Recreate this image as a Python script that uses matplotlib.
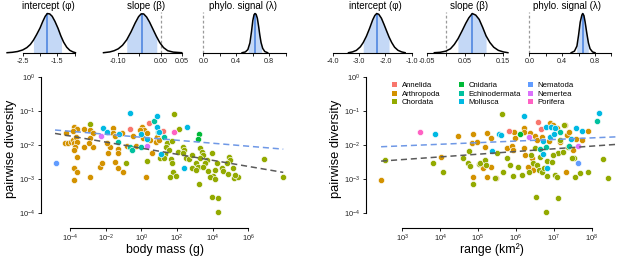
import numpy as np
import matplotlib
matplotlib.use('Agg')
import matplotlib.pyplot as plt
from matplotlib.lines import Line2D
from matplotlib.legend import Legend

plt.rcParams['font.family'] = ['Liberation Sans', 'DejaVu Sans']
plt.rcParams['mathtext.fontset'] = 'custom'
plt.rcParams['mathtext.rm'] = 'Liberation Sans'
plt.rcParams['mathtext.it'] = 'Liberation Sans:italic'
plt.rcParams['mathtext.bf'] = 'Liberation Sans:bold'
plt.rcParams['axes.unicode_minus'] = False

# ---------------- data ----------------
phyla = ['Annelida', 'Arthropoda', 'Chordata', 'Cnidaria', 'Echinodermata',
         'Mollusca', 'Nematoda', 'Nemertea', 'Porifera']
phylum_colors = ['#F8766D', '#D39200', '#93AA00', '#00BA38', '#00C19F',
                 '#00B9E3', '#619CFF', '#DB72FB', '#FF61C3']

# body mass panel: log10 body mass (g), log10 pairwise diversity
mass_annelida_x = [-0.63, 0.45, 1.23]
mass_annelida_y = [-1.54, -1.35, -1.58]
mass_arthropoda_x = [-3.78, -3.62, -3.85, -4.22, -4.28, -4.10, -3.96, -3.81, -3.78, -3.66, -3.59, -3.72,
                     -3.78, -3.59, -3.78, -3.59, -3.78, -3.20, -3.20, -2.88, -2.73, -2.88, -2.69, -2.92,
                     -2.88, -2.32, -2.22, -1.57, -1.57, -1.48, -1.76, -1.91, -1.85, -1.32, -1.32, -1.48,
                     -1.32, -1.04, -1.10, -0.79, -0.45, -0.30, 0.02, 0.15, 0.30, 0.08, 0.49, 0.58,
                     0.26, 0.82, -0.07, 0.90, 1.01]
mass_arthropoda_y = [-1.48, -1.54, -1.59, -1.66, -1.93, -1.93, -1.90, -1.85, -1.95, -1.76, -1.90, -2.07,
                     -2.15, -2.36, -2.68, -2.78, -3.02, -1.53, -2.05, -1.56, -1.66, -1.80, -2.05, -1.95,
                     -2.94, -2.63, -2.52, -1.51, -1.66, -1.74, -2.05, -1.95, -2.22, -2.12, -2.24, -2.49,
                     -2.68, -2.78, -1.66, -2.03, -1.74, -2.03, -1.46, -1.56, -1.66, -1.80, -1.85, -2.22,
                     -2.93, -1.90, -1.56, -1.77, -1.85]
mass_chordata_x = [-2.88, -0.86, 0.34, 1.85, 2.11, 1.46, 1.70, 1.38, 1.57, 1.33, 1.05, 1.27, 1.65, 1.70,
                   2.07, 2.32, 2.39, 2.35, 2.51, 3.29, 3.39, 3.48, 3.29, 3.95, 3.67, 3.57, 3.07, 3.20,
                   2.83, 3.07, 3.48, 3.76, 4.13, 4.23, 4.04, 3.85, 4.13, 4.51, 4.60, 4.93, 4.97, 4.82,
                   5.13, 4.88, 5.20, 5.44, 5.25, 1.76, 1.61, 1.95, 3.25, 3.95, 4.32, 4.32, 6.88, 7.93,
                   2.69, 2.83]
mass_chordata_y = [-1.39, -2.52, -2.47, -1.09, -1.53, -1.93, -1.87, -2.07, -2.15, -2.26, -2.39, -2.39,
                   -2.42, -2.52, -2.19, -2.05, -2.15, -2.24, -2.39, -2.10, -2.19, -2.29, -2.39, -2.22,
                   -2.44, -2.53, -2.52, -2.63, -2.68, -2.73, -2.63, -2.75, -2.73, -2.53, -2.91, -2.94,
                   -3.00, -2.68, -2.75, -2.34, -2.44, -2.53, -2.66, -2.85, -2.97, -2.93, -2.88, -2.78,
                   -2.93, -2.91, -3.14, -3.51, -3.54, -3.97, -2.42, -2.93, -2.42, -2.29]
mass_cnidaria_x = [3.25, 3.16]
mass_cnidaria_y = [-1.69, -1.83]
mass_echinodermata_x = [-1.29, -0.63, -0.55, -0.03, 0.71, 0.95, 1.29]
mass_echinodermata_y = [-1.90, -2.05, -2.15, -2.05, -1.29, -1.61, -1.77]
mass_mollusca_x = [-0.63, -2.13, -1.91, -1.23, -0.03, 0.90, 0.90, 0.34, 2.55, 1.01, 1.10, 2.41]
mass_mollusca_y = [-1.07, -1.49, -1.61, -1.69, -1.69, -1.15, -1.48, -1.83, -1.48, -1.61, -2.26, -2.67]
mass_nematoda_x = [-4.79]
mass_nematoda_y = [-2.53]
mass_nemertea_x = [-2.28, 0.34]
mass_nemertea_y = [-1.74, -2.02]
mass_porifera_x = [1.85]
mass_porifera_y = [-1.63]

# range panel: log10 range (km^2), log10 pairwise diversity
range_annelida_x = [5.82, 6.59, 6.66]
range_annelida_y = [-1.58, -1.33, -1.54]
range_arthropoda_x = [2.44, 4.48, 4.87, 4.83, 4.98, 4.01, 4.87, 5.23, 5.33, 5.18, 5.96, 5.98, 6.20, 6.20,
                      5.77, 5.89, 5.92, 6.20, 6.37, 6.50, 6.55, 6.68, 6.86, 6.90, 6.97, 7.09, 7.16, 7.30,
                      7.34, 7.41, 7.59, 7.74, 7.91, 7.50, 6.42, 6.42, 6.46, 6.33, 5.33, 5.14, 5.47, 5.24,
                      7.32, 6.24]
range_arthropoda_y = [-3.02, -1.73, -1.69, -1.93, -1.90, -2.36, -2.93, -1.66, -1.79, -2.05, -1.61, -1.79,
                      -1.51, -1.61, -2.10, -2.02, -2.15, -2.08, -1.66, -1.73, -1.85, -1.76, -1.88, -1.36,
                      -1.41, -1.51, -1.92, -1.41, -1.71, -1.63, -1.83, -1.85, -1.59, -2.15, -2.39, -2.63,
                      -2.73, -2.63, -2.63, -2.68, -2.96, -2.93, -2.80, -2.29]
range_chordata_x = [2.54, 3.82, 4.08, 4.77, 4.61, 4.74, 4.79, 5.03, 4.86, 5.62, 5.49, 5.76, 5.84, 6.05,
                    5.67, 5.92, 6.15, 6.35, 6.44, 6.55, 6.62, 6.68, 6.74, 6.81, 6.95, 6.81, 7.03, 7.09,
                    7.12, 7.25, 7.38, 7.16, 7.27, 6.50, 6.99, 7.53, 7.47, 7.69, 7.91, 7.56, 8.29, 8.44,
                    5.05, 5.18, 5.21, 5.45, 6.53, 7.12, 6.79, 6.39, 6.64]
range_chordata_y = [-2.44, -2.53, -2.80, -2.17, -2.37, -2.52, -2.61, -2.56, -3.15, -1.09, -2.22, -2.39,
                    -2.58, -2.63, -2.78, -2.91, -2.88, -2.78, -2.53, -2.58, -2.73, -2.78, -2.68, -2.47,
                    -2.49, -2.91, -2.88, -2.93, -2.24, -2.19, -2.05, -1.85, -1.41, -2.10, -2.29, -2.37,
                    -2.39, -2.83, -2.78, -2.93, -2.41, -2.97, -2.53, -2.44, -2.58, -2.97, -3.51, -3.54,
                    -3.97, -2.29, -2.34]
range_cnidaria_x = [6.11]
range_cnidaria_y = [-1.69]
range_echinodermata_x = [6.64, 6.79, 7.16, 8.13, 7.40]
range_echinodermata_y = [-2.12, -2.05, -1.61, -1.29, -2.03]
range_mollusca_x = [3.86, 6.21, 8.20, 5.54, 5.61, 6.79, 6.93, 7.03, 7.59, 7.74, 6.90, 7.01, 6.71, 5.36,
                    6.71, 6.83, 7.45]
range_mollusca_y = [-1.69, -1.15, -1.07, -1.68, -1.71, -1.46, -1.46, -1.51, -1.49, -1.59, -1.77, -1.69,
                    -1.89, -2.17, -2.27, -2.66, -1.82]
range_nematoda_x = [7.65]
range_nematoda_y = [-2.53]
range_nemertea_x = [6.35, 7.65]
range_nemertea_y = [-1.76, -2.02]
range_porifera_x = [3.47]
range_porifera_y = [-1.63]

# fitted lines (log10 units, end points)
mass_line_x = [-4.84, 7.96]
mass_blue_line_y = [-1.56, -2.12]
mass_gray_line_y = [-1.66, -2.80]
range_line_x = [2.44, 8.66]
range_blue_line_y = [-2.05, -1.76]
range_gray_line_y = [-2.47, -1.98]

# posterior densities (value, relative density)
mass_int_x = [-2.95, -2.80, -2.65, -2.50, -2.38, -2.28, -2.19, -2.10, -2.00, -1.92, -1.85, -1.79,
              -1.72, -1.65, -1.57, -1.48, -1.40, -1.32, -1.23, -1.14, -1.05, -0.98]
mass_int_d = [0.00, 0.01, 0.03, 0.07, 0.13, 0.21, 0.32, 0.46, 0.63, 0.80, 0.93, 1.00,
              0.99, 0.93, 0.80, 0.62, 0.43, 0.27, 0.14, 0.06, 0.02, 0.00]
mass_int_ci = [-2.19, -1.38]
mass_int_mean = -1.79

mass_slope_x = [-0.135, -0.12, -0.11, -0.10, -0.09, -0.08, -0.07, -0.06, -0.052, -0.046, -0.040,
                -0.033, -0.026, -0.018, -0.010, -0.002, 0.007, 0.017, 0.030, 0.050]
mass_slope_d = [0.00, 0.02, 0.05, 0.10, 0.19, 0.33, 0.53, 0.76, 0.92, 0.99, 0.99,
                0.91, 0.78, 0.60, 0.42, 0.26, 0.13, 0.05, 0.015, 0.00]
mass_slope_ci = [-0.080, -0.009]
mass_slope_mean = -0.045

mass_lambda_x = [0.47, 0.51, 0.54, 0.565, 0.585, 0.60, 0.615, 0.627, 0.64, 0.655, 0.67, 0.685,
                 0.70, 0.72, 0.745, 0.78]
mass_lambda_d = [0.00, 0.02, 0.08, 0.25, 0.55, 0.82, 0.97, 1.00, 0.98, 0.88, 0.68, 0.45,
                 0.26, 0.11, 0.03, 0.00]
mass_lambda_ci = [0.545, 0.707]
mass_lambda_mean = 0.627

range_int_x = [-3.40, -3.25, -3.10, -2.95, -2.84, -2.72, -2.60, -2.48, -2.40, -2.33, -2.25, -2.15,
               -2.05, -1.95, -1.86, -1.76, -1.65, -1.52, -1.38, -1.25]
range_int_d = [0.00, 0.02, 0.06, 0.15, 0.26, 0.42, 0.62, 0.84, 0.95, 1.00, 0.98, 0.88,
               0.72, 0.55, 0.40, 0.26, 0.14, 0.06, 0.02, 0.00]
range_int_ci = [-2.84, -1.86]
range_int_mean = -2.33

range_slope_x = [-0.03, -0.015, 0.0, 0.012, 0.022, 0.032, 0.042, 0.052, 0.060, 0.069, 0.078, 0.087,
                 0.096, 0.105, 0.115, 0.125, 0.137, 0.150, 0.162]
range_slope_d = [0.00, 0.01, 0.04, 0.10, 0.21, 0.36, 0.55, 0.75, 0.89, 1.00, 0.96, 0.85,
                 0.65, 0.43, 0.26, 0.14, 0.06, 0.02, 0.00]
range_slope_ci = [0.0315, 0.105]
range_slope_mean = 0.069

range_lambda_x = [0.51, 0.55, 0.58, 0.60, 0.62, 0.64, 0.65, 0.665, 0.68, 0.70, 0.72, 0.74, 0.77, 0.80]
range_lambda_d = [0.00, 0.04, 0.17, 0.45, 0.78, 0.96, 1.00, 0.95, 0.78, 0.50, 0.25, 0.10, 0.02, 0.00]
range_lambda_ci = [0.577, 0.718]
range_lambda_mean = 0.65

# ---------------- figure ----------------
W, H = 617, 258
fig = plt.figure(figsize=(W / 100, H / 100), dpi=100)

SHADE = '#c4d8f6'
MEAN = '#4f86e0'


def px_rect(l, r, t, b):
    return [l / W, (H - b) / H, (r - l) / W, (b - t) / H]


def lim_from_px(l, r, p0, v0, p1, v1):
    s = (v1 - v0) / (p1 - p0)
    return v0 + (l - p0) * s, v0 + (r - p0) * s


def draw_density(l, r, p0, v0, p1, v1, xs, ds, ci, mean, ticks, labels,
                 title, title_x, zero_line):
    ax = fig.add_axes(px_rect(l, r, 10, 52.7))
    ax.set_xlim(*lim_from_px(l, r, p0, v0, p1, v1))
    ax.set_ylim(0, 1.09)
    ax.patch.set_alpha(0)
    xs = np.asarray(xs)
    ds = np.asarray(ds)
    g = np.linspace(ci[0], ci[1], 80)
    ax.fill_between(g, 0, np.interp(g, xs, ds), color=SHADE, lw=0, zorder=1)
    ax.plot([mean, mean], [0, np.interp(mean, xs, ds)], color=MEAN, lw=1.2, zorder=2)
    if zero_line:
        ax.plot([0, 0], [0, 1.03], ls=(0, (2.2, 1.8)), color='#9a9a9a', lw=0.9, zorder=1)
    ax.plot(xs, ds, color='black', lw=1.1, zorder=3, clip_on=False,
            solid_joinstyle='round')
    for s in ['top', 'right', 'left']:
        ax.spines[s].set_visible(False)
    ax.spines['bottom'].set_bounds(ticks[0], ticks[-1])
    ax.spines['bottom'].set_linewidth(0.8)
    ax.set_yticks([])
    ax.set_xticks(ticks)
    ax.set_xticklabels(labels)
    ax.tick_params(axis='x', length=2.5, width=0.7, pad=1.2, labelsize=5.2,
                   colors='#222222')
    fig.text(title_x / W, 1 - 6 / H, title, ha='center', va='center', fontsize=7)
    return ax


# left group (body mass)
draw_density(3, 90, 22.7, -2.5, 74.7, -1.0, mass_int_x, mass_int_d, mass_int_ci, mass_int_mean,
             [-2.5, -2.0, -1.5, -1.0], ['-2.5', '', '-1.5', ''], 'intercept (φ)', 48, False)
draw_density(100, 190, 118.3, -0.10, 181.7, 0.05, mass_slope_x, mass_slope_d, mass_slope_ci,
             mass_slope_mean, [-0.10, -0.05, 0.0, 0.05], ['-0.10', '', '0.00', '0.05'],
             'slope (β)', 146, True)
draw_density(196, 292, 203.3, 0.0, 269.3, 0.8, mass_lambda_x, mass_lambda_d, mass_lambda_ci,
             mass_lambda_mean, [0.0, 0.2, 0.4, 0.6, 0.8, 1.0], ['0.0', '', '0.4', '', '0.8', ''],
             'phylo. signal (λ)', 243, True)

# right group (range)
draw_density(318, 420, 332.7, -4.0, 411.7, -1.0, range_int_x, range_int_d, range_int_ci,
             range_int_mean, [-4.0, -3.0, -2.0, -1.0], ['-4.0', '-3.0', '-2.0', '-1.0'],
             'intercept (φ)', 375, False)
draw_density(421, 515, 426.7, -0.05, 503.3, 0.15, range_slope_x, range_slope_d, range_slope_ci,
             range_slope_mean, [-0.05, 0.0, 0.05, 0.10, 0.15], ['-0.05', '', '0.05', '', '0.15'],
             'slope (β)', 469, True)
draw_density(520, 616, 529.3, 0.0, 595.0, 0.8, range_lambda_x, range_lambda_d, range_lambda_ci,
             range_lambda_mean, [0.0, 0.2, 0.4, 0.6, 0.8, 1.0], ['0.0', '', '0.4', '', '0.8', ''],
             'phylo. signal (λ)', 567, True)

# ---------------- scatter panels ----------------
mass_sets = [(mass_annelida_x, mass_annelida_y), (mass_arthropoda_x, mass_arthropoda_y),
             (mass_chordata_x, mass_chordata_y), (mass_cnidaria_x, mass_cnidaria_y),
             (mass_echinodermata_x, mass_echinodermata_y), (mass_mollusca_x, mass_mollusca_y),
             (mass_nematoda_x, mass_nematoda_y), (mass_nemertea_x, mass_nemertea_y),
             (mass_porifera_x, mass_porifera_y)]
range_sets = [(range_annelida_x, range_annelida_y), (range_arthropoda_x, range_arthropoda_y),
              (range_chordata_x, range_chordata_y), (range_cnidaria_x, range_cnidaria_y),
              (range_echinodermata_x, range_echinodermata_y), (range_mollusca_x, range_mollusca_y),
              (range_nematoda_x, range_nematoda_y), (range_nemertea_x, range_nemertea_y),
              (range_porifera_x, range_porifera_y)]

draw_order = [1, 2, 0, 3, 4, 5, 6, 7, 8]


def draw_scatter(l, r, p0, v0, p1, v1, sets, line_x, blue_y, gray_y, xticks, xlabel, ylabel_x):
    top, bot = 70, 228.3
    ax = fig.add_axes(px_rect(l, r, top, bot))
    ax.patch.set_alpha(0)
    lx0, lx1 = lim_from_px(l, r, p0, v0, p1, v1)
    ly_top = (76.7 - top) / 34.17
    ly_bot = -(bot - 76.7) / 34.17
    ax.set_xscale('log')
    ax.set_yscale('log')
    ax.set_xlim(10 ** lx0, 10 ** lx1)
    ax.set_ylim(10 ** ly_bot, 10 ** ly_top)
    for i in draw_order:
        xs, ys = sets[i]
        ax.scatter(10 ** np.asarray(xs), 10 ** np.asarray(ys), s=20, color=phylum_colors[i],
                   edgecolors='white', linewidths=0.45, zorder=3)
    ax.plot(10 ** np.asarray(line_x), 10 ** np.asarray(blue_y), ls=(0, (4, 2.5)),
            color='#6f98e6', lw=1.1, zorder=4)
    ax.plot(10 ** np.asarray(line_x), 10 ** np.asarray(gray_y), ls=(0, (4, 2.5)),
            color='#5a5a5a', lw=1.1, zorder=4)
    for s in ['top', 'right']:
        ax.spines[s].set_visible(False)
    ax.spines['left'].set_bounds(1e-4, 1)
    ax.spines['bottom'].set_bounds(10.0 ** xticks[0], 10.0 ** xticks[-1])
    for s in ['left', 'bottom']:
        ax.spines[s].set_linewidth(0.8)
    ax.set_yticks([10.0 ** k for k in range(-4, 1)])
    ax.set_yticklabels([r'$10^{%d}$' % k for k in range(-4, 1)])
    ax.set_xticks([10.0 ** k for k in xticks])
    ax.set_xticklabels([r'$10^{%d}$' % k for k in xticks])
    ax.minorticks_off()
    ax.tick_params(length=2.5, width=0.7, labelsize=5.4, colors='#222222', pad=1.5)
    ax.tick_params(axis='x', pad=0.8)
    ax.set_xlabel(xlabel, fontsize=8.8, va='center')
    ax.set_ylabel('pairwise diversity', fontsize=9.3, va='center')
    ax.yaxis.set_label_coords((ylabel_x - l) / (r - l), 0.5)
    ax.xaxis.set_label_coords(0.5, -(250.0 - bot) / (bot - top))
    return ax


draw_scatter(41, 290, 70, -4, 248.3, 6, mass_sets, mass_line_x, mass_blue_line_y,
             mass_gray_line_y, [-4, -2, 0, 2, 4, 6], 'body mass (g)', 11)
axr = draw_scatter(366, 617, 402.3, 3, 591.7, 8, range_sets, range_line_x, range_blue_line_y,
                   range_gray_line_y, [3, 4, 5, 6, 7, 8], 'range (km²)', 336)

# legend: three columns of three entries
col_x = [391.5, 458.2, 527.5]
for c in range(3):
    handles = [Line2D([], [], ls='', marker='s', markersize=3.6, color=phylum_colors[i],
                      markeredgewidth=0) for i in range(3 * c, 3 * c + 3)]
    leg = Legend(axr, handles, phyla[3 * c:3 * c + 3], loc='upper left',
                 bbox_to_anchor=(col_x[c] / W, 1 - 81.5 / H), bbox_transform=fig.transFigure,
                 frameon=False, fontsize=5.6, handlelength=0.6, handletextpad=0.7,
                 labelspacing=0.15, borderpad=0, borderaxespad=0)
    axr.add_artist(leg)

fig.savefig('out.png', dpi=100)
